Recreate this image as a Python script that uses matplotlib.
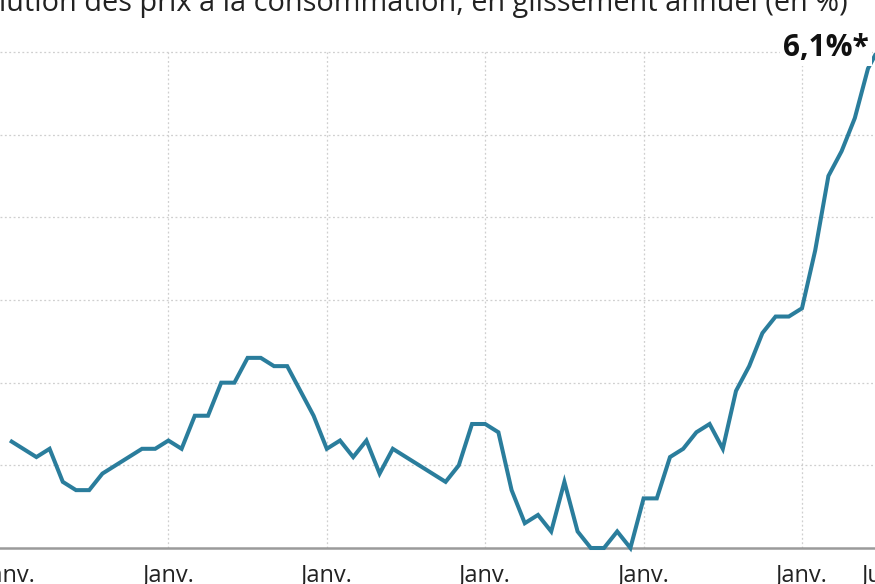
import matplotlib
matplotlib.use("Agg")
import matplotlib.pyplot as plt
import matplotlib.transforms as mtransforms

# Monthly French CPI, year-on-year change (%), Jan 2017 -> Jul 2022
values_2017 = [1.3, 1.2, 1.1, 1.2, 0.8, 0.7, 0.7, 0.9, 1.0, 1.1, 1.2, 1.2]
values_2018 = [1.3, 1.2, 1.6, 1.6, 2.0, 2.0, 2.3, 2.3, 2.2, 2.2, 1.9, 1.6]
values_2019 = [1.2, 1.3, 1.1, 1.3, 0.9, 1.2, 1.1, 1.0, 0.9, 0.8, 1.0, 1.5]
values_2020 = [1.5, 1.4, 0.7, 0.3, 0.4, 0.2, 0.8, 0.2, 0.0, 0.0, 0.2, 0.0]
values_2021 = [0.6, 0.6, 1.1, 1.2, 1.4, 1.5, 1.2, 1.9, 2.2, 2.6, 2.8, 2.8]
values_2022 = [2.9, 3.6, 4.5, 4.8, 5.2, 5.8, 6.1]

values = values_2017 + values_2018 + values_2019 + values_2020 + values_2021 + values_2022
months = list(range(len(values)))

tick_months = [0, 12, 24, 36, 48, 60, 66]
tick_labels = ["Janv.", "Janv.", "Janv.", "Janv.", "Janv.", "Janv.", "Juil."]
grid_values = [1, 2, 3, 4, 5, 6]

title = "Évolution des prix à la consommation, en glissement annuel (en %)"
annotation = "6,1%*"

W, H = 875, 584
fig = plt.figure(figsize=(W / 100, H / 100), dpi=100)
ax = fig.add_axes([0, 0, 1, 1])
ax.set_axis_off()

# pixel geometry of the reference
px_per_unit = (548 - 52) / 6.0
px_per_month = (802 - 10) / 60.0
ax.set_xlim(-10 / px_per_month, (W - 10) / px_per_month)
ax.set_ylim(-(H - 548) / px_per_unit, 548 / px_per_unit)

grid_color = "#cfcfcf"
for g in grid_values:
    ax.axhline(g, color=grid_color, lw=0.9, ls=(0, (1.5, 2)), zorder=1)
for m in tick_months[1:6]:
    ax.plot([m, m], [0, 6], color=grid_color, lw=0.9, ls=(0, (1.5, 2)), zorder=1)
ax.axhline(0, color="#9a9a9a", lw=1.8, zorder=2)

ax.plot(months, values, color="#2a7d9c", lw=2.9, solid_joinstyle="miter",
        solid_capstyle="butt", zorder=3, clip_on=True)

font = "Open Sans"
trans = mtransforms.blended_transform_factory(ax.transData, fig.transFigure)
for m, lab in zip(tick_months, tick_labels):
    ax.text(m, 1 - 563 / H, lab, transform=trans, ha="center", va="top",
            fontsize=17, color="#222222", family=font)

# annotation
ax.text(869 / W, 1 - 56 / H, annotation, transform=fig.transFigure, ha="right",
        va="baseline", fontsize=21.5, fontweight="bold", color="#111111", family=font,
        bbox=dict(boxstyle="square,pad=0.1", fc="white", ec="none"), zorder=4)

# title, fit visible part width
t = fig.text(848 / W, 1 - 11 / H, title, ha="right", va="baseline",
             fontsize=16, color="#222222", family=font)
fig.canvas.draw()
r = fig.canvas.get_renderer()
sub = fig.text(0, 0, title[3:], fontsize=16, family=font)
sub_w = sub.get_window_extent(r).width
sub.remove()
target = 849.0
t.set_fontsize(16 * target / sub_w)

fig.savefig("out.png", dpi=100)
